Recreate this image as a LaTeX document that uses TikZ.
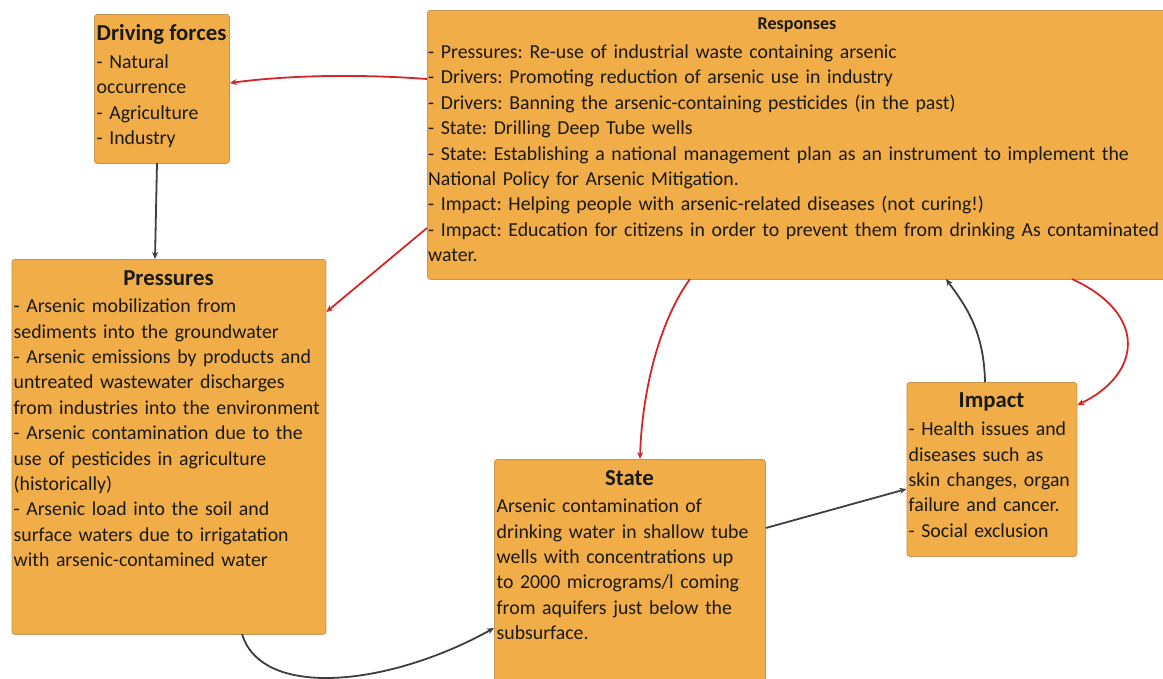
\documentclass[tikz,border=0pt]{standalone}
\usepackage{fontspec}
\setmainfont{Carlito}
\usetikzlibrary{arrows.meta}
\definecolor{boxfill}{RGB}{241,174,72}
\definecolor{boxline}{RGB}{196,150,86}
\definecolor{redline}{RGB}{212,38,38}
\definecolor{darkline}{RGB}{62,62,62}
\definecolor{txt}{RGB}{25,25,25}
\tikzset{
  panel/.style={draw=boxline, fill=boxfill, line width=0.8pt, rounded corners=3pt, inner sep=0pt, anchor=north west},
  body/.style={anchor=base west, inner sep=0pt, align=left, text=txt, font=\frenchspacing\fontsize{19.8}{25.4}\selectfont},
  ttl/.style={anchor=base, inner sep=0pt, text=txt, font=\bfseries\fontsize{22.8}{26}\selectfont},
  redarrow/.style={draw=redline, line width=1.8pt, -{Stealth[length=7pt,width=6pt]}},
  darkarrow/.style={draw=darkline, line width=1.8pt, -{Stealth[length=7pt,width=6pt]}}
}
\begin{document}
\begin{tikzpicture}[x=1pt,y=-1pt]
\useasboundingbox (0,0) rectangle (1163,678);
% boxes
\node[panel, minimum width=135pt, minimum height=149pt] (drv) at (94,14) {};
\node[panel, minimum width=740pt, minimum height=269pt] (rsp) at (427,10) {};
\node[panel, minimum width=314pt, minimum height=375pt] (prs) at (11.5,259) {};
\node[panel, minimum width=271pt, minimum height=230pt] (sta) at (494,459) {};
\node[panel, minimum width=170pt, minimum height=174pt] (imp) at (906.5,382) {};
% texts
\node[ttl, anchor=base west] (drvT) at (96.5,40) {Driving forces};
\node[body, text width=134pt] (drvB) at (96.5,68.5) {- Natural\\occurrence\\- Agriculture\\- Industry};
\node[ttl, font=\bfseries\fontsize{18}{20}\selectfont] (rspT) at (797,29.3) {Responses};
\node[body, text width=734pt] (rspB) at (428,58.5) {- Pressures: Re-use of industrial waste containing arsenic\\
- Drivers: Promoting reduction of arsenic use in industry\\
- Drivers: Banning the arsenic-containing pesticides (in the past)\\
- State: Drilling Deep Tube wells\\
- State: Establishing a national management plan as an instrument to implement the\\
National Policy for Arsenic Mitigation.\\
- Impact: Helping people with arsenic-related diseases (not curing!)\\
- Impact: Education for citizens in order to prevent them from drinking As contaminated\\
water.};
\node[ttl] (prsT) at (168.5,285) {Pressures};
\node[body, text width=312pt] (prsB) at (13.5,312.7) {- Arsenic mobilization from\\
sediments into the groundwater\\
- Arsenic emissions by products and\\
untreated wastewater discharges\\
from industries into the environment\\
- Arsenic contamination due to the\\
use of pesticides in agriculture\\
(historically)\\
- Arsenic load into the soil and\\
surface waters due to irrigatation\\
with arsenic-contamined water};
\node[ttl] (staT) at (629.5,485) {State};
\node[body, text width=268pt] (staB) at (496.5,512.7) {Arsenic contamination of\\
drinking water in shallow tube\\
wells with concentrations up\\
to 2000 micrograms/l coming\\
from aquifers just below the\\
subsurface.};
\node[ttl] (impT) at (991.5,407.7) {Impact};
\node[body, text width=168pt] (impB) at (908.5,435.7) {- Health issues and\\
diseases such as\\
skin changes, organ\\
failure and cancer.\\
- Social exclusion};
% connector end points on the boxes
\coordinate (rspL1) at (rsp.north west |- 0,79);
\coordinate (drvR) at (drv.north east |- 0,83);
\coordinate (drvBot) at (157,163);
\coordinate (prsTop) at (155,259);
\coordinate (rspL2) at (rsp.north west |- 0,228);
\coordinate (prsR) at (prs.north east |- 0,312);
\coordinate (rspB1) at (690,279);
\coordinate (staTop) at (640,459);
\coordinate (rspB2) at (1072,279);
\coordinate (impR) at (imp.north east |- 0,405);
\coordinate (impTop) at (985,382);
\coordinate (rspB3) at (946,279);
\coordinate (staR) at (sta.north east |- 0,528);
\coordinate (impL) at (imp.north west |- 0,489);
\coordinate (prsBot) at (242,634);
\coordinate (staL) at (sta.north west |- 0,628);
% connectors
\draw[redarrow] (rspL1) .. controls (360,74) and (290,75) .. (drvR);
\draw[darkarrow] (drvBot) -- (prsTop);
\draw[redarrow] (rspL2) -- (prsR);
\draw[redarrow] (rspB1) .. controls (660,320) and (642,390) .. (staTop);
\draw[redarrow] (rspB2) .. controls (1150,315) and (1140,375) .. (impR);
\draw[darkarrow] (impTop) .. controls (984,330) and (965,305) .. (rspB3);
\draw[darkarrow] (staR) -- (impL);
\draw[darkarrow] (prsBot) .. controls (262,700) and (390,686) .. (staL);
\end{tikzpicture}
\end{document}
